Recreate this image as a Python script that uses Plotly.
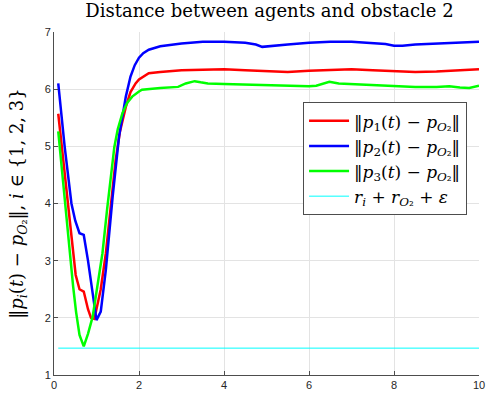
import plotly.graph_objects as go

t1 = [0.1, 0.22, 0.33, 0.45, 0.51, 0.6, 0.7, 0.8, 0.87, 0.95, 1.1, 1.22, 1.3, 1.45, 1.55, 1.69, 1.8, 1.92, 2.0, 2.23, 2.5, 3.0, 3.5, 4.0, 4.5, 5.0, 5.5, 6.0, 6.5, 7.0, 7.5, 8.0, 8.5, 9.0, 9.5, 10.0]
p1 = [5.57, 4.76, 3.95, 3.13, 2.75, 2.5, 2.46, 2.15, 2.0, 1.98, 2.5, 3.13, 3.7, 4.76, 5.25, 5.69, 5.95, 6.1, 6.17, 6.28, 6.3, 6.33, 6.34, 6.35, 6.33, 6.31, 6.3, 6.32, 6.34, 6.35, 6.33, 6.31, 6.3, 6.31, 6.33, 6.35]

t2 = [0.1, 0.25, 0.41, 0.5, 0.6, 0.7, 0.8, 0.9, 1.0, 1.1, 1.22, 1.38, 1.53, 1.69, 1.8, 1.9, 2.0, 2.1, 2.23, 2.5, 2.75, 3.0, 3.5, 4.0, 4.5, 4.75, 4.9, 5.1, 5.5, 6.0, 6.5, 7.0, 7.5, 7.8, 8.0, 8.2, 8.5, 9.0, 9.5, 10.0]
p2 = [6.1, 5.0, 4.0, 3.7, 3.48, 3.45, 3.0, 2.45, 1.96, 2.11, 2.84, 4.12, 5.17, 5.87, 6.22, 6.42, 6.55, 6.63, 6.69, 6.75, 6.78, 6.8, 6.83, 6.83, 6.81, 6.78, 6.74, 6.75, 6.78, 6.81, 6.83, 6.83, 6.81, 6.79, 6.76, 6.76, 6.78, 6.8, 6.82, 6.83]

t3 = [0.1, 0.2, 0.29, 0.37, 0.45, 0.52, 0.6, 0.7, 0.8, 0.91, 1.0, 1.14, 1.25, 1.42, 1.5, 1.61, 1.72, 1.84, 2.0, 2.07, 2.5, 2.92, 3.1, 3.31, 3.45, 3.62, 4.0, 4.5, 5.0, 5.5, 6.0, 6.17, 6.48, 6.7, 7.0, 7.5, 8.0, 8.5, 9.0, 9.3, 9.55, 9.77, 10.0]
p3 = [5.26, 4.45, 3.71, 3.1, 2.55, 2.1, 1.7, 1.5, 1.72, 2.02, 2.45, 3.13, 3.9, 4.99, 5.3, 5.58, 5.76, 5.87, 5.96, 5.99, 6.02, 6.04, 6.1, 6.14, 6.12, 6.1, 6.09, 6.08, 6.06, 6.05, 6.05, 6.06, 6.13, 6.1, 6.09, 6.07, 6.05, 6.04, 6.04, 6.05, 6.03, 6.02, 6.06]

t_bound = [0.1, 10.0]
bound = [1.47, 1.47]

names = [
    "‖<i>p</i><sub>1</sub>(<i>t</i>) − <i>p</i><sub><i>O</i>₂</sub>‖",
    "‖<i>p</i><sub>2</sub>(<i>t</i>) − <i>p</i><sub><i>O</i>₂</sub>‖",
    "‖<i>p</i><sub>3</sub>(<i>t</i>) − <i>p</i><sub><i>O</i>₂</sub>‖",
    "<i>r<sub>i</sub></i> + <i>r</i><sub><i>O</i>₂</sub> + <i>ε</i>",
]

SERIF = "DejaVu Serif, Liberation Serif, serif"

fig = go.Figure()
fig.add_trace(go.Scatter(x=t1, y=p1, mode="lines", line=dict(color="#ff0000", width=2.5), name=names[0]))
fig.add_trace(go.Scatter(x=t2, y=p2, mode="lines", line=dict(color="#0000ff", width=2.5), name=names[1]))
fig.add_trace(go.Scatter(x=t3, y=p3, mode="lines", line=dict(color="#00ff00", width=2.5), name=names[2]))
fig.add_trace(go.Scatter(x=t_bound, y=bound, mode="lines", line=dict(color="#00ffff", width=1), name=names[3]))

axis_common = dict(
    showgrid=True, gridcolor="#e3e3e3", gridwidth=1,
    showline=True, linecolor="#4d4d4d", linewidth=1,
    ticks="inside", ticklen=4, tickcolor="#4d4d4d",
    tickfont=dict(family="Liberation Sans, Arial", size=11, color="#262626"),
    zeroline=False, mirror=False,
)

fig.update_layout(
    width=491, height=401,
    margin=dict(l=54, r=6, t=32, b=26),
    paper_bgcolor="white", plot_bgcolor="white",
    title=dict(text="Distance between agents and obstacle 2", x=0.507, xanchor="center",
               xref="paper", y=0.99, yanchor="top",
               font=dict(family=SERIF, size=18, color="#000000")),
    xaxis=dict(range=[0, 10], tickvals=[0, 2, 4, 6, 8, 10], ticklabeloverflow="allow", **axis_common),
    yaxis=dict(range=[1, 7], tickvals=[1, 2, 3, 4, 5, 6, 7],
               title=dict(text="‖<i>p<sub>i</sub></i>(<i>t</i>) − <i>p</i><sub><i>O</i>₂</sub>‖, <i>i</i> ∈ {1, 2, 3}",
                          font=dict(family=SERIF, size=18, color="#000000"),
                          standoff=16),
               **axis_common),
    legend=dict(x=0.586, y=0.795, xanchor="left", yanchor="top",
                bgcolor="white", bordercolor="#4d4d4d", borderwidth=1,
                font=dict(family=SERIF, size=17, color="#000000"),
                tracegroupgap=0, itemwidth=40),
    showlegend=True,
)

fig.write_html("out.html", config={"displayModeBar": False},
               post_script="document.body.style.margin='0px';")
